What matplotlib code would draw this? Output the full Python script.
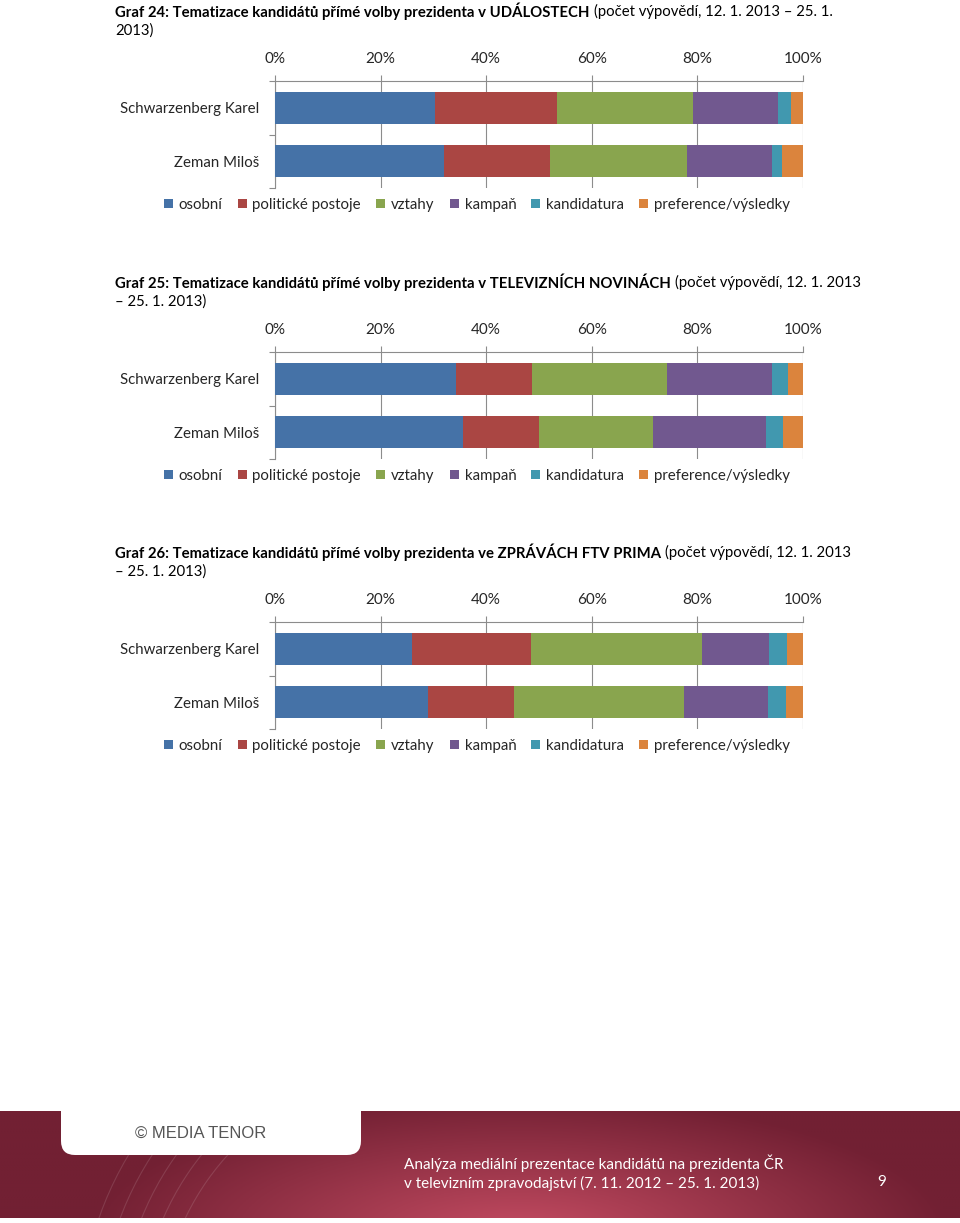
import matplotlib.pyplot as plt
import numpy as np
from matplotlib.patches import FancyBboxPatch, Patch, Arc
import matplotlib.ticker as mticker

plt.rcParams["font.family"] = ["Lato", "DejaVu Sans"]

W, H = 960, 1223

# ── data ────────────────────────────────────────────────────────────────────
candidates = ["Schwarzenberg Karel", "Zeman Miloš"]
topics = ["osobní", "politické postoje", "vztahy", "kampaň", "kandidatura", "preference/výsledky"]
topic_colors = ["#4572A7", "#AA4643", "#89A54E", "#71588F", "#4198AF", "#DB843D"]
pct_ticks = [0, 20, 40, 60, 80, 100]

# share of statements (%) per topic
udalosti_schwarzenberg = [30.3, 23.2, 25.6, 16.2, 2.4, 2.3]
udalosti_zeman = [32.0, 20.0, 26.1, 16.1, 1.9, 3.9]
tn_schwarzenberg = [34.3, 14.3, 25.7, 19.9, 2.9, 2.9]
tn_zeman = [35.7, 14.3, 21.5, 21.4, 3.4, 3.7]
prima_schwarzenberg = [25.9, 22.6, 32.3, 12.7, 3.4, 3.1]
prima_zeman = [29.0, 16.2, 32.2, 16.0, 3.4, 3.2]

titles_bold = [
    "Graf 24: Tematizace kandidátů přímé volby prezidenta v UDÁLOSTECH",
    "Graf 25: Tematizace kandidátů přímé volby prezidenta v TELEVIZNÍCH NOVINÁCH",
    "Graf 26: Tematizace kandidátů přímé volby prezidenta ve ZPRÁVÁCH FTV PRIMA",
]
titles_rest = [
    "(počet výpovědí, 12. 1. 2013 – 25. 1.",
    "(počet výpovědí, 12. 1. 2013",
    "(počet výpovědí, 12. 1. 2013",
]
titles_line2 = ["2013)", "– 25. 1. 2013)", "– 25. 1. 2013)"]

charts = [
    [udalosti_schwarzenberg, udalosti_zeman],
    [tn_schwarzenberg, tn_zeman],
    [prima_schwarzenberg, prima_zeman],
]
offsets = [0, 271, 541]

GRAY = "#8c8c8c"
TXT = "#262626"


def fx(x):
    return x / W


def fy(y):
    return 1 - y / H


fig = plt.figure(figsize=(W / 100, H / 100), dpi=100)
renderer = fig.canvas.get_renderer()

for ci, (rows, off) in enumerate(zip(charts, offsets)):
    # title: bold part + regular part, wrapped on two lines
    t = fig.text(fx(115), fy(11 + off), titles_bold[ci], fontsize=10.7, fontweight="bold",
                 ha="left", va="center", color="black")
    bb = t.get_window_extent(renderer)
    fig.text((bb.x1 + 4) / W, fy(11 + off), titles_rest[ci], fontsize=10.7,
             ha="left", va="center", color="black")
    fig.text(fx(115), fy(31 + off), titles_line2[ci], fontsize=10.7,
             ha="left", va="center", color="black")

    ax = fig.add_axes([fx(275), fy(188 + off), (803 - 275) / W, (188 - 81) / H])
    data = np.array(rows)
    left = np.zeros(len(candidates))
    for k, name in enumerate(topics):
        ax.barh(np.arange(len(candidates)), data[:, k], left=left, height=0.6,
                color=topic_colors[k], edgecolor="none", zorder=3)
        left += data[:, k]

    ax.set_xlim(0, 100)
    ax.set_ylim(len(candidates) - 0.5, -0.5)
    ax.set_xticks(pct_ticks)
    ax.xaxis.set_major_formatter(mticker.FuncFormatter(lambda v, _: f"{v:.0f}%"))
    ax.xaxis.tick_top()
    ax.tick_params(axis="x", direction="out", length=4, width=0.8, color=GRAY,
                   labelsize=11, labelcolor=TXT, pad=7)
    ax.set_yticks(np.arange(len(candidates)))
    ax.set_yticklabels(candidates)
    ax.set_yticks(np.arange(-0.5, len(candidates)), minor=True)
    ax.tick_params(axis="y", which="major", length=0, labelsize=10.8, labelcolor=TXT, pad=11)
    ax.tick_params(axis="y", which="minor", length=4, width=0.8, color=GRAY, direction="out")
    ax.grid(axis="x", color=GRAY, linewidth=0.8, zorder=0)
    ax.grid(axis="y", visible=False)
    for s in ["right", "bottom"]:
        ax.spines[s].set_visible(False)
    for s in ["top", "left"]:
        ax.spines[s].set_color(GRAY)
        ax.spines[s].set_linewidth(0.8)

    handles = [Patch(facecolor=c, edgecolor="none") for c in topic_colors]
    fig.legend(handles, topics, loc="center", bbox_to_anchor=(fx(477), fy(205 + off)),
               ncol=6, frameon=False, fontsize=10.8, handlelength=0.6, handleheight=0.6,
               handletextpad=0.4, columnspacing=1.0, labelcolor=TXT)

# ── footer banner ───────────────────────────────────────────────────────────
fax = fig.add_axes([0, fy(1223), 1, 1223 / H - 1100 / H])
fax.set_xlim(0, W)
fax.set_ylim(1223, 1100)
fax.axis("off")

gx, gy = np.meshgrid(np.linspace(0, W, 320), np.linspace(1111, 1218, 60))
r = np.sqrt(((gx - 520) / 430) ** 2 + ((gy - 1235) / 140) ** 2)
r = np.clip(r, 0, 1)
c_in = np.array([0xc4, 0x4c, 0x62]) / 255
c_out = np.array([0x72, 0x20, 0x33]) / 255
img = c_in[None, None, :] * (1 - r[..., None]) + c_out[None, None, :] * r[..., None]
fax.imshow(img, extent=(0, W, 1218, 1111), aspect="auto", zorder=1)

for rad in [260, 280, 300, 320, 340]:
    fax.add_patch(Arc((420, 1330), rad * 2, rad * 2, theta1=180, theta2=250,
                      color="white", alpha=0.12, lw=0.8, zorder=2))

tab = FancyBboxPatch((61, 1090), 300, 65, boxstyle="round,pad=0,rounding_size=14",
                     facecolor="white", edgecolor="none", zorder=3)
fax.add_patch(tab)

fig.text(fx(201), fy(1133), "© MEDIA TENOR", fontsize=12, color="#555555",
         family=["Liberation Sans", "DejaVu Sans"], ha="center", va="center")
fig.text(fx(404), fy(1163), "Analýza mediální prezentace kandidátů na prezidenta ČR",
         fontsize=11, color="white", ha="left", va="center")
fig.text(fx(404), fy(1183), "v televizním zpravodajství (7. 11. 2012 – 25. 1. 2013)",
         fontsize=11, color="white", ha="left", va="center")
fig.text(fx(882), fy(1182), "9", fontsize=11, color="white", ha="center", va="center")

fig.savefig("out.png", dpi=100)
